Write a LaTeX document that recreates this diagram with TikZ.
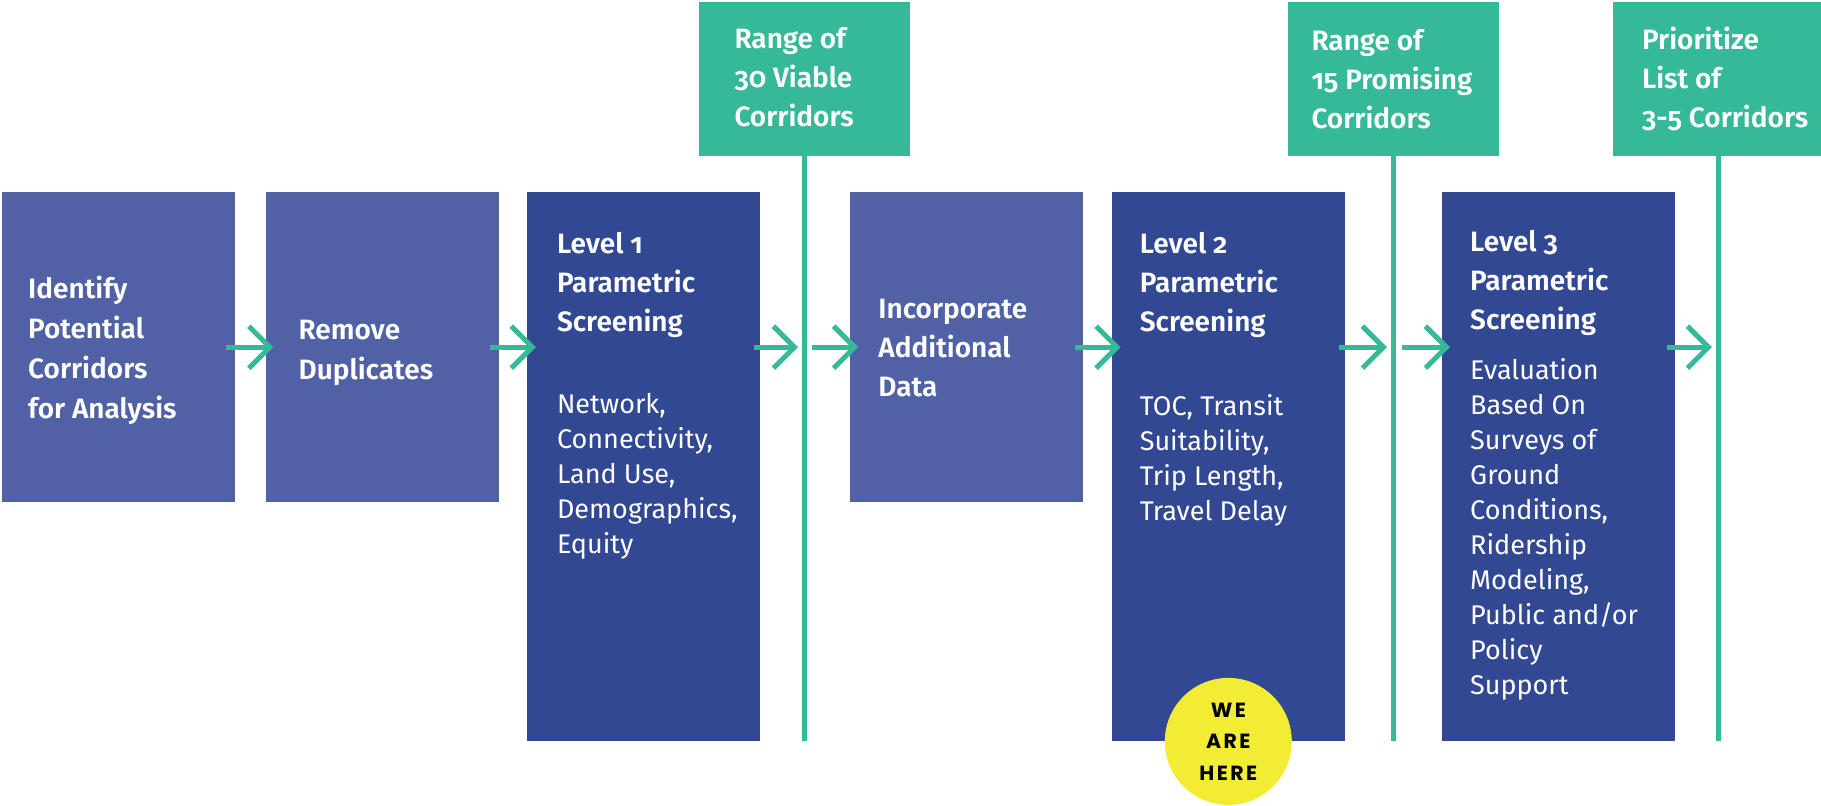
\documentclass[tikz,border=0pt]{standalone}
\usepackage{fontspec}
\setmainfont{Fira Sans}[Numbers=OldStyle,BoldFont={Fira Sans SemiBold}]
\newfontfamily\badgefont{Poppins}[LetterSpace=12]
\usetikzlibrary{arrows.meta,positioning,calc}
\definecolor{slate}{HTML}{5062A5}
\definecolor{indigo}{HTML}{324892}
\definecolor{mint}{HTML}{36B998}
\definecolor{lemon}{HTML}{F2EC34}

\begin{document}
\begin{tikzpicture}[x=1pt,y=-1pt,
  stage/.style={fill=slate,inner sep=0,minimum width=233pt,minimum height=310pt},
  level/.style={fill=indigo,inner sep=0,minimum width=233pt,minimum height=549pt},
  result/.style={fill=mint,inner sep=0,minimum width=211pt,minimum height=154pt},
  head/.style={text=white,align=left,inner sep=0,anchor=north west,font=\fontsize{28}{39}\selectfont\bfseries},
  body/.style={text=white,align=left,inner sep=0,anchor=north west,font=\fontsize{27}{35}\selectfont},
  badge/.style={circle,fill=lemon,minimum size=127pt,inner sep=0,align=center,font=\badgefont\fontsize{20.5}{31.5}\selectfont\bfseries},
  flow/.style={draw=mint,line width=5pt,-{Straight Barb[length=21pt,width=42pt]}},
  gate/.style={draw=mint,line width=5pt}]
\useasboundingbox (0,0) rectangle (1821,806);

% process boxes
\node[stage,anchor=north west] (b1) at (2,192) {};
\node[stage,right=30pt of b1] (b2) {};
\node[level,right=28pt of b2.north east,anchor=north west] (b3) {};
\node[stage,right=90pt of b3.north east,anchor=north west] (b4) {};
\node[level,right=28pt of b4.north east,anchor=north west] (b5) {};
\node[level,right=97pt of b5.north east,anchor=north west] (b6) {};

% results and their gates
\node[result,anchor=north] (r1) at (804,2) {};
\node[result,anchor=north] (r2) at (1393,2) {};
\node[result,anchor=north] (r3) at (1718,2) {};
\draw[gate] (r1.south) -- (r1.south |- b3.south);
\draw[gate] (r2.south) -- (r2.south |- b5.south);
\draw[gate] (r3.south) -- (r3.south |- b6.south);

% texts
\node[head,font=\fontsize{28}{40}\selectfont\bfseries] (b1t) at ([shift={(26,84)}]b1.north west) {Identify\\Potential\\Corridors\\for Analysis};
\node[head,font=\fontsize{28}{39.5}\selectfont\bfseries] (b2t) at ([shift={(33,128)}]b2.north west) {Remove\\Duplicates};
\node[head] (b3t) at ([shift={(30,40)}]b3.north west) {Level 1\\Parametric\\Screening};
\node[body] (b3b) at ([shift={(30,201)}]b3.north west) {Network,\\Connectivity,\\Land Use,\\Demographics,\\Equity};
\node[head] (b4t) at ([shift={(28,107)}]b4.north west) {Incorporate\\Additional\\Data};
\node[head] (b5t) at ([shift={(28,40)}]b5.north west) {Level 2\\Parametric\\Screening};
\node[body] (b5b) at ([shift={(28,202)}]b5.north west) {TOC, Transit\\Suitability,\\Trip Length,\\Travel Delay};
\node[head] (b6t) at ([shift={(28,38)}]b6.north west) {Level 3\\Parametric\\Screening};
\node[body] (b6b) at ([shift={(28,166)}]b6.north west) {Evaluation\\Based On\\Surveys of\\Ground\\Conditions,\\Ridership\\Modeling,\\Public and/or\\Policy\\Support};
\node[head] (r1t) at ([shift={(36,25)}]r1.north west) {Range of\\30 Viable\\Corridors};
\node[head] (r2t) at ([shift={(24,27)}]r2.north west) {Range of\\15 Promising\\Corridors};
\node[head] (r3t) at ([shift={(29.5,24.5)}]r3.north west) {Prioritize\\List of\\3-5 Corridors};

% flow arrows
\draw[flow] ([xshift=-9pt]b1.east) -- ([xshift=8pt]b2.west);
\draw[flow] ([xshift=-9pt]b2.east) -- ($(b3.west |- b2.east)+(9,0)$);
\draw[flow] ($(b3.east |- b2.east)+(-6,0)$) -- ($(r1.south |- b2.east)+(-6,0)$);
\draw[flow] ($(r1.south |- b2.east)+(8,0)$) -- ([xshift=8pt]b4.west);
\draw[flow] ([xshift=-9pt]b4.east) -- ($(b5.west |- b4.east)+(9,0)$);
\draw[flow] ($(b5.east |- b4.east)+(-6,0)$) -- ($(r2.south |- b4.east)+(-6,0)$);
\draw[flow] ($(r2.south |- b4.east)+(9,0)$) -- ($(b6.west |- b4.east)+(8,0)$);
\draw[flow] ($(b6.east |- b4.east)+(-8,0)$) -- ($(r3.south |- b4.east)+(-6,0)$);

\node[badge] (here) at (b5.south) {WE\\ARE\\HERE};
\end{tikzpicture}
\end{document}
